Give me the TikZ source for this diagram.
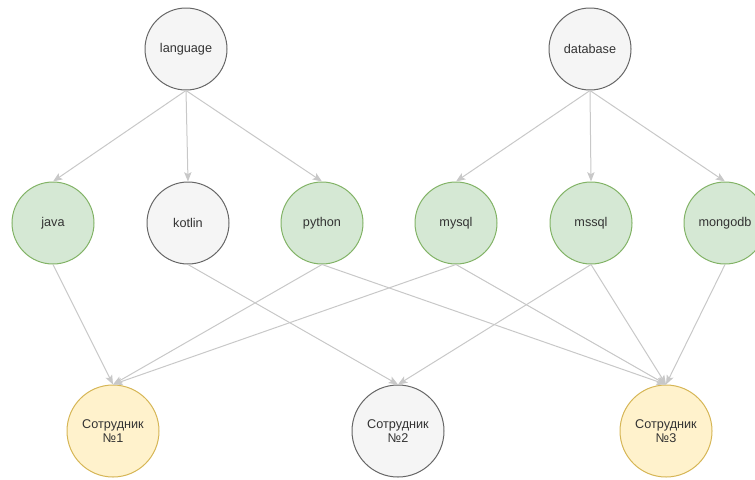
\documentclass[tikz,border=0pt]{standalone}
\usepackage{fontspec}
\setmainfont{Liberation Sans}
\usepackage{tikz}
\usetikzlibrary{arrows.meta}

\definecolor{greyfill}{HTML}{F5F5F5}
\definecolor{greyline}{HTML}{666666}
\definecolor{greenfill}{HTML}{D5E8D4}
\definecolor{greenline}{HTML}{82B366}
\definecolor{yellowfill}{HTML}{FFF2CC}
\definecolor{yellowline}{HTML}{D6B656}
\definecolor{edgeline}{HTML}{C8C8C8}
\definecolor{labeltext}{HTML}{333333}

\begin{document}
\begin{tikzpicture}[x=0.75pt, y=-0.75pt,
  every node/.style = {shape=circle, draw, align=center, inner sep=0pt, text=labeltext, line width=0.75pt,
    font=\fontsize{9.5}{11}\selectfont, minimum size=61.5pt},
  grey/.style = {fill=greyfill, draw=greyline},
  green/.style = {fill=greenfill, draw=greenline},
  yellow/.style = {fill=yellowfill, draw=yellowline},
  person/.style = {minimum size=69pt},
  link/.style = {draw=edgeline, line width=0.75pt, -{Stealth[length=7pt, width=5.5pt, inset=1.5pt]}}]
  \useasboundingbox (0,0) rectangle (755,479);
  % categories
  \node[grey] (lang) at (186,49) {language};
  \node[grey] (db) at (590,49) {database};
  % skills
  \node[green] (java) at (53,223) {java};
  \node[grey] (kotlin) at (188,223) {kotlin};
  \node[green] (python) at (322,223) {python};
  \node[green] (mysql) at (456,223) {mysql};
  \node[green] (mssql) at (591,223) {mssql};
  \node[green] (mongo) at (725,223) {mongodb};
  % employees
  \node[yellow, person] (emp1) at (113,431) {Сотрудник\\№1};
  \node[grey, person] (emp2) at (398,431) {Сотрудник\\№2};
  \node[yellow, person] (emp3) at (666,431) {Сотрудник\\№3};
  \foreach \s in {java,kotlin,python} \draw[link] (lang.south) -- (\s.north);
  \foreach \s in {mysql,mssql,mongo} \draw[link] (db.south) -- (\s.north);
  \draw[link] (java.south) -- (emp1.north);
  \draw[link] (kotlin.south) -- (emp2.north);
  \draw[link] (python.south) -- (emp1.north);
  \draw[link] (python.south) -- (emp3.north);
  \draw[link] (mysql.south) -- (emp1.north);
  \draw[link] (mysql.south) -- (emp3.north);
  \draw[link] (mssql.south) -- (emp2.north);
  \draw[link] (mssql.south) -- (emp3.north);
  \draw[link] (mongo.south) -- (emp3.north);
\end{tikzpicture}
\end{document}
